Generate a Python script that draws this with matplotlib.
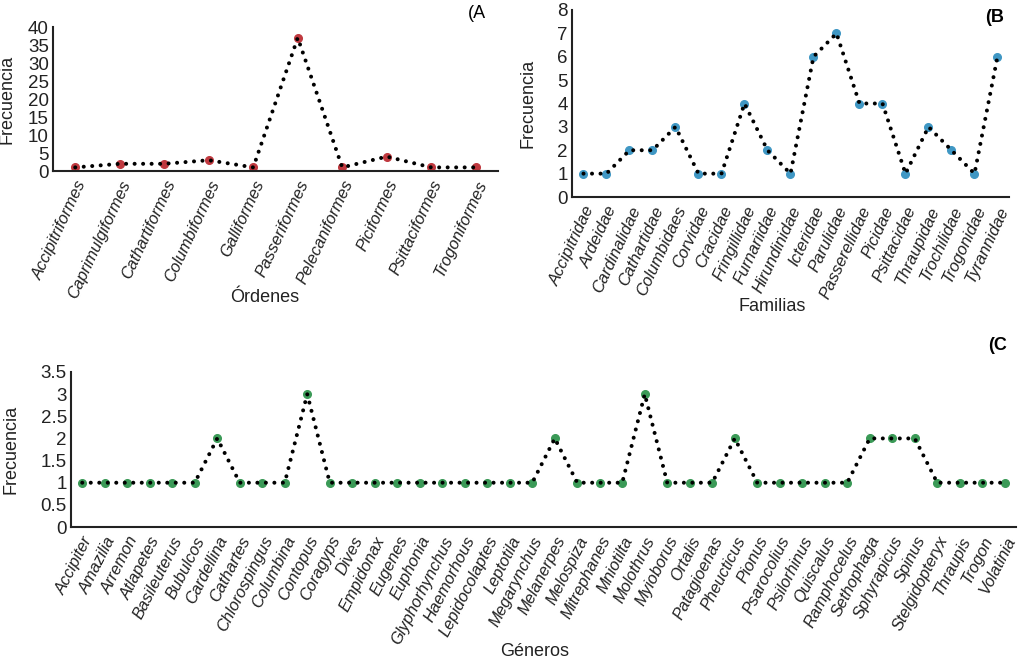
import matplotlib
matplotlib.use("Agg")
import matplotlib.pyplot as plt

plt.rcParams['font.family'] = ['Liberation Sans', 'DejaVu Sans']

ordenes = ["Accipitriformes", "Caprimulgiformes", "Cathartiformes", "Columbiformes",
           "Galliformes", "Passeriformes", "Pelecaniformes", "Piciformes",
           "Psittaciformes", "Trogoniformes"]
ordenes_frec = [1, 2, 2, 3, 1, 37, 1, 4, 1, 1]

familias = ["Accipitridae", "Ardeidae", "Cardinalidae", "Cathartidae", "Columbidaes",
            "Corvidae", "Cracidae", "Fringillidae", "Furnariidae", "Hirundinidae",
            "Icteridae", "Parulidae", "Passerellidae", "Picidae", "Psittacidae",
            "Thraupidae", "Trochilidae", "Trogonidae", "Tyrannidae"]
familias_frec = [1, 1, 2, 2, 3, 1, 1, 4, 2, 1, 6, 7, 4, 4, 1, 3, 2, 1, 6]

generos = ["Accipiter", "Amazilia", "Arremon", "Atlapetes", "Basileuterus", "Bubulcos",
           "Cardellina", "Cathartes", "Chlorospingus", "Columbina", "Contopus", "Coragyps",
           "Dives", "Empidonax", "Eugenes", "Euphonia", "Glyphorhynchus", "Haemorhous",
           "Lepidocolaptes", "Leptotila", "Megarynchus", "Melanerpes", "Melospiza",
           "Mitrephanes", "Mniotilta", "Molothrus", "Myioborus", "Ortalis", "Patagioenas",
           "Pheucticus", "Pionus", "Psarocolius", "Psilorhinus", "Quiscalus", "Ramphocelus",
           "Sethophaga", "Sphyrapicus", "Spinus", "Stelgidopteryx", "Thraupis", "Trogon",
           "Volatinia"]
generos_frec = [1, 1, 1, 1, 1, 1, 2, 1, 1, 1, 3, 1, 1, 1, 1, 1, 1, 1, 1, 1, 1, 2, 1, 1,
                1, 3, 1, 1, 1, 2, 1, 1, 1, 1, 1, 2, 2, 2, 1, 1, 1, 1]

W, H = 1020, 671
fig = plt.figure(figsize=(W / 100, H / 100), dpi=100)


def rect(l, r, t, b):
    return [l / W, 1 - b / H, (r - l) / W, (b - t) / H]


def panel(ax, cats, vals, color, ylim, yticks, yticklabels, xlabel, xfs, rot):
    x = list(range(len(cats)))
    ax.plot(x, vals, 'o', color=color, markersize=5.5, zorder=2, clip_on=False)
    ax.plot(x, vals, color='black', lw=2.9, linestyle=(0, (0.01, 2.1)),
            dash_capstyle='round', zorder=3, clip_on=False)
    ax.set_xlim(-0.5, len(cats) - 0.5)
    ax.set_ylim(*ylim)
    ax.set_yticks(yticks)
    ax.set_yticklabels(yticklabels, fontsize=13.5, color='#222222')
    ax.set_xticks(x)
    ax.set_xticklabels(cats, rotation=rot, ha='right', rotation_mode='anchor',
                       fontsize=xfs, style='italic', color='#222222')
    for s in ['top', 'right']:
        ax.spines[s].set_visible(False)
    for s in ['left', 'bottom']:
        ax.spines[s].set_linewidth(1.5)
        ax.spines[s].set_color('#222222')
    ax.tick_params(length=0, pad=3)
    ax.tick_params(axis='x', pad=5)
    ax.set_ylabel('Frecuencia', fontsize=13, color='#222222')
    ax.set_xlabel(xlabel, fontsize=13, color='#222222')


axA = fig.add_axes(rect(53, 498, 27, 171))
panel(axA, ordenes, ordenes_frec, '#c0393f', (0, 40), list(range(0, 41, 5)),
      [str(v) for v in range(0, 41, 5)], 'Órdenes', 11.8, 65)
axA.yaxis.set_label_coords(-0.085, 0.5)
axA.xaxis.set_label_coords(0.476, -0.875)
axA.xaxis.label.set_va('center')

axB = fig.add_axes(rect(572, 1009, 10, 197))
panel(axB, familias, familias_frec, '#3f97c4', (0, 8), list(range(0, 9)),
      [str(v) for v in range(0, 9)], 'Familias', 12, 65)
axB.yaxis.set_label_coords(-0.082, 0.5)
axB.xaxis.set_label_coords(0.458, -0.583)
axB.xaxis.label.set_va('center')

ytC = [0, 0.5, 1, 1.5, 2, 2.5, 3, 3.5]
axC = fig.add_axes(rect(71, 1016, 372, 527))
panel(axC, generos, generos_frec, '#3b9a57', (0, 3.5), ytC,
      ['0', '0.5', '1', '1.5', '2', '2.5', '3', '3.5'], 'Géneros', 11.8, 63)
axC.yaxis.set_label_coords(-0.054, 0.5)
axC.xaxis.set_label_coords(0.491, -0.806)
axC.xaxis.label.set_va('center')

fig.text(468 / W, 1 - 14 / H, '(A', fontsize=13, va='center', ha='left')
fig.text(985 / W, 1 - 18 / H, '(B', fontsize=13, va='center', ha='left', weight='bold')
fig.text(988 / W, 1 - 345 / H, '(C', fontsize=13, va='center', ha='left', weight='bold')

fig.savefig('out.png', dpi=100)
